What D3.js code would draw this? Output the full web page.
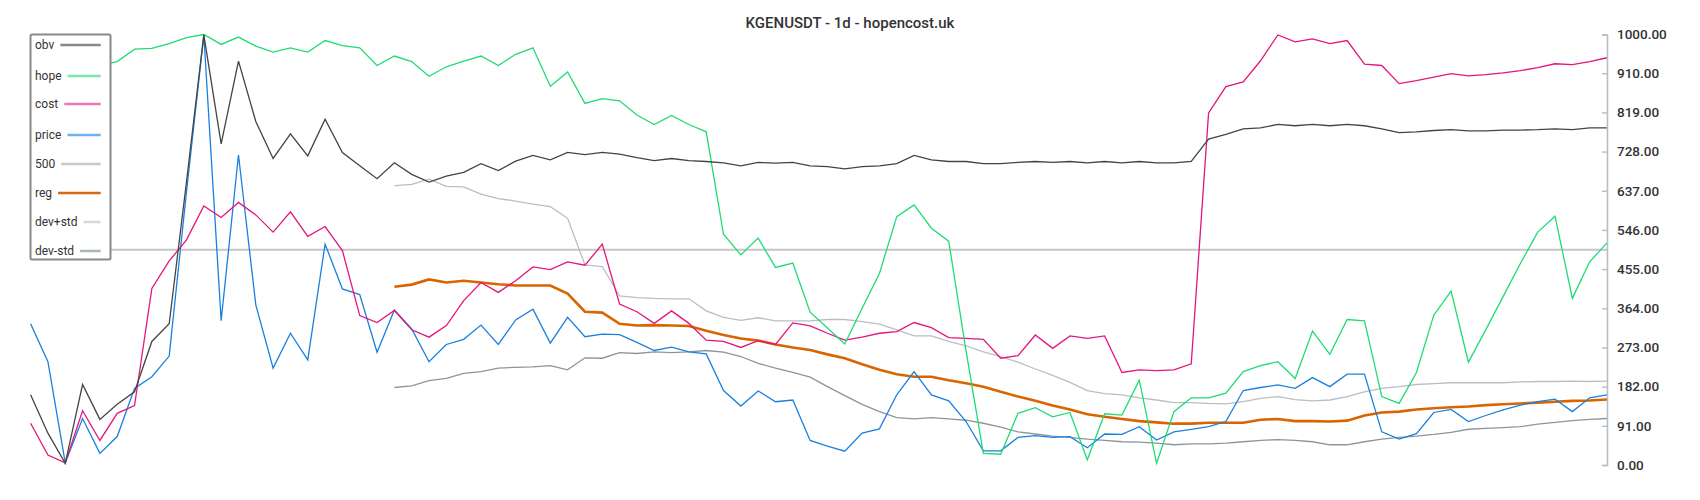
<!DOCTYPE html>
<html>
<head>
<meta charset="utf-8">
<script src="https://cdn.jsdelivr.net/npm/d3@7"></script>
<style>
  body { margin: 0; background: #fff; }
  svg { display: block; font-family: Roboto, "Noto Sans", sans-serif; }
</style>
</head>
<body>
<svg id="chart" width="1700" height="500"></svg>
<script>
// ---- data ----
const title = "KGENUSDT - 1d - hopencost.uk";
const yTicks = [0, 91, 182, 273, 364, 455, 546, 637, 728, 819, 910, 1000];
const refLevel = 500;

const obv = [163,74,4,187,106,141,170,287,328,658,999,746,938,798,712,769,718,803,726,695,665,702,675,657,671,680,
  700,684,706,719,709,726,721,726,722,714,707,712,707,
  705,702,695,703,701,703,695,693,688,693,695,700,719,
  709,705,705,700,700,703,705,703,705,702,705,702,705,
  702,702,705,757,768,781,783,791,788,791,788,791,788,
  781,772,774,777,779,776,776,778,778,779,781,779,783,783];

const hope = [880,895,905,918,929,
  937,966,968,979,993,1000,977,994,973,959,969,959,986,974,969,928,950,937,903,925,938,
  950,928,954,969,880,913,840,851,846,813,791,812,791,
  774,536,488,527,459,469,355,318,281,364,445,577,604,
  550,520,265,27,25,120,133,112,122,12,119,116,197,
  4,124,156,156,167,217,231,240,201,311,257,338,335,
  159,143,215,348,404,239,314,391,468,541,578,387,472,516];

const cost = [97,23,5,126,57,120,138,410,474,523,602,575,610,
  581,541,588,531,554,498,347,331,359,314,297,324,382,
  424,401,428,460,454,472,464,513,374,356,329,358,329,
  290,287,273,289,280,330,323,306,290,297,306,310,331,
  319,296,294,292,248,254,302,271,300,294,300,215,221,
  219,221,235,818,879,890,939,999,983,990,979,986,931,
  928,886,893,901,909,904,907,911,916,923,932,930,937,946];

const price = [328,240,5,108,27,66,178,205,253,635,999,335,720,
  372,225,306,244,513,409,396,262,360,316,240,280,292,
  325,280,337,362,283,343,298,304,303,285,266,274,263,
  258,173,137,172,147,151,57,44,32,74,84,163,217,
  163,149,101,33,33,64,68,64,66,40,72,71,89,
  58,77,83,89,101,173,180,186,178,203,182,211,211,
  77,60,73,122,129,101,115,128,139,147,153,124,156,163];

const N = 21; // leading points without regression values
const pad = Array(N).fill(null);
const reg = pad.concat([414,419,431,424,428,
  424,420,417,417,417,398,356,354,328,324,325,324,323,
  312,302,294,289,280,273,267,257,248,234,221,211,205,
  205,197,190,182,170,159,149,138,129,118,112,107,102,
  99,96,96,98,98,98,105,107,102,102,101,103,115,
  122,124,129,132,134,136,139,141,143,145,147,149,150,152]);

const devPlus = pad.concat([649,652,664,647,646,
  629,619,613,606,600,573,465,461,393,389,387,386,386,
  358,343,336,342,335,335,335,338,338,333,327,314,300,
  300,287,277,263,252,239,223,208,192,173,166,163,156,
  151,145,145,143,142,147,155,159,152,149,151,159,170,
  178,182,187,189,191,191,191,191,193,194,194,195,194,195]);

const devMinus = pad.concat([180,184,196,201,213,
  217,225,227,228,231,221,249,248,261,259,263,261,263,
  266,262,252,236,225,215,204,182,161,141,124,110,107,
  110,107,104,97,88,77,72,67,64,60,57,54,53,
  51,47,49,49,51,54,57,59,57,54,47,47,54,
  60,64,67,71,76,83,85,87,89,95,99,103,106,108]);

// ---- drawing ----
const svg = d3.select("#chart");
const idx = d3.range(obv.length);
const x = d3.scalePoint().domain(idx).range([30.6, 1607]);
const y = d3.scaleLinear().domain([0, 1000]).range([465, 34.5]);

svg.append("rect").attr("width", 1700).attr("height", 500).attr("fill", "#fff");

svg.append("text")
  .attr("x", 850).attr("y", 28)
  .attr("text-anchor", "middle")
  .attr("font-size", 15).attr("font-weight", 500)
  .attr("fill", "#333")
  .text(title);

// 500 reference line
svg.append("line")
  .attr("x1", x(0)).attr("x2", x(idx[idx.length - 1]))
  .attr("y1", y(refLevel)).attr("y2", y(refLevel))
  .attr("stroke", "#c6c6c6").attr("stroke-width", 2);

const series = [
  { name: "dev+std", data: devPlus,  color: "#b7bfc5", width: 1.3, legend: "#d3d8dc" },
  { name: "dev-std", data: devMinus, color: "#8996a0", width: 1.3, legend: "#aab4bb" },
  { name: "reg",     data: reg,      color: "#d96400", width: 2.6, legend: "#d86a10" },
  { name: "price",   data: price,    color: "#1a80e0", width: 1.3, legend: "#70b2ec" },
  { name: "cost",    data: cost,     color: "#e4157d", width: 1.3, legend: "#ef78b4" },
  { name: "hope",    data: hope,     color: "#1fdc72", width: 1.3, legend: "#7ae9a6" },
  { name: "obv",     data: obv,      color: "#444444", width: 1.3, legend: "#888888" }
];

const line = d3.line()
  .defined(d => d != null)
  .x((d, i) => x(i))
  .y(d => y(d));

series.forEach(s => {
  svg.append("path")
    .datum(s.data)
    .attr("fill", "none")
    .attr("stroke", s.color)
    .attr("stroke-width", s.width)
    .attr("stroke-linejoin", "miter")
    .attr("d", line);
});

// right axis
const axis = d3.axisRight(y)
  .tickValues(yTicks)
  .tickFormat(d3.format(".2f"))
  .tickSizeInner(-5)
  .tickSizeOuter(-5)
  .tickPadding(10);

const gAxis = svg.append("g")
  .attr("transform", `translate(1607,0)`)
  .call(axis);
gAxis.select(".domain").attr("stroke", "#b3bec6").attr("stroke-width", 1.6);
gAxis.selectAll(".tick line").attr("stroke", "#b3bec6").attr("stroke-width", 1.4);
gAxis.selectAll(".tick text")
  .attr("font-family", "Roboto, sans-serif")
  .attr("font-size", 13.5).attr("font-weight", 500)
  .attr("fill", "#333");

// legend
const legendItems = [
  { name: "obv",     color: "#888888" },
  { name: "hope",    color: "#7ae9a6" },
  { name: "cost",    color: "#ef78b4" },
  { name: "price",   color: "#70b2ec" },
  { name: "500",     color: "#c8c8c8" },
  { name: "reg",     color: "#d66a10" },
  { name: "dev+std", color: "#d3d8dc" },
  { name: "dev-std", color: "#aab4bb" }
];
const legendY = [45, 76, 104, 135, 164, 193, 222, 251];

const gLeg = svg.append("g");
gLeg.append("rect")
  .attr("x", 30.5).attr("y", 34.5).attr("width", 80).attr("height", 225)
  .attr("rx", 1.5)
  .attr("fill", "#fff").attr("stroke", "#8a8a8a").attr("stroke-width", 2);

legendItems.forEach((it, i) => {
  const t = gLeg.append("text")
    .attr("x", 35).attr("y", legendY[i])
    .attr("dominant-baseline", "central")
    .attr("font-size", 12).attr("fill", "#333")
    .text(it.name);
  const w = t.node().getComputedTextLength();
  gLeg.append("line")
    .attr("x1", 35 + w + 6).attr("x2", 100.7)
    .attr("y1", legendY[i]).attr("y2", legendY[i])
    .attr("stroke", it.color).attr("stroke-width", 2.5);
});
</script>
</body>
</html>
